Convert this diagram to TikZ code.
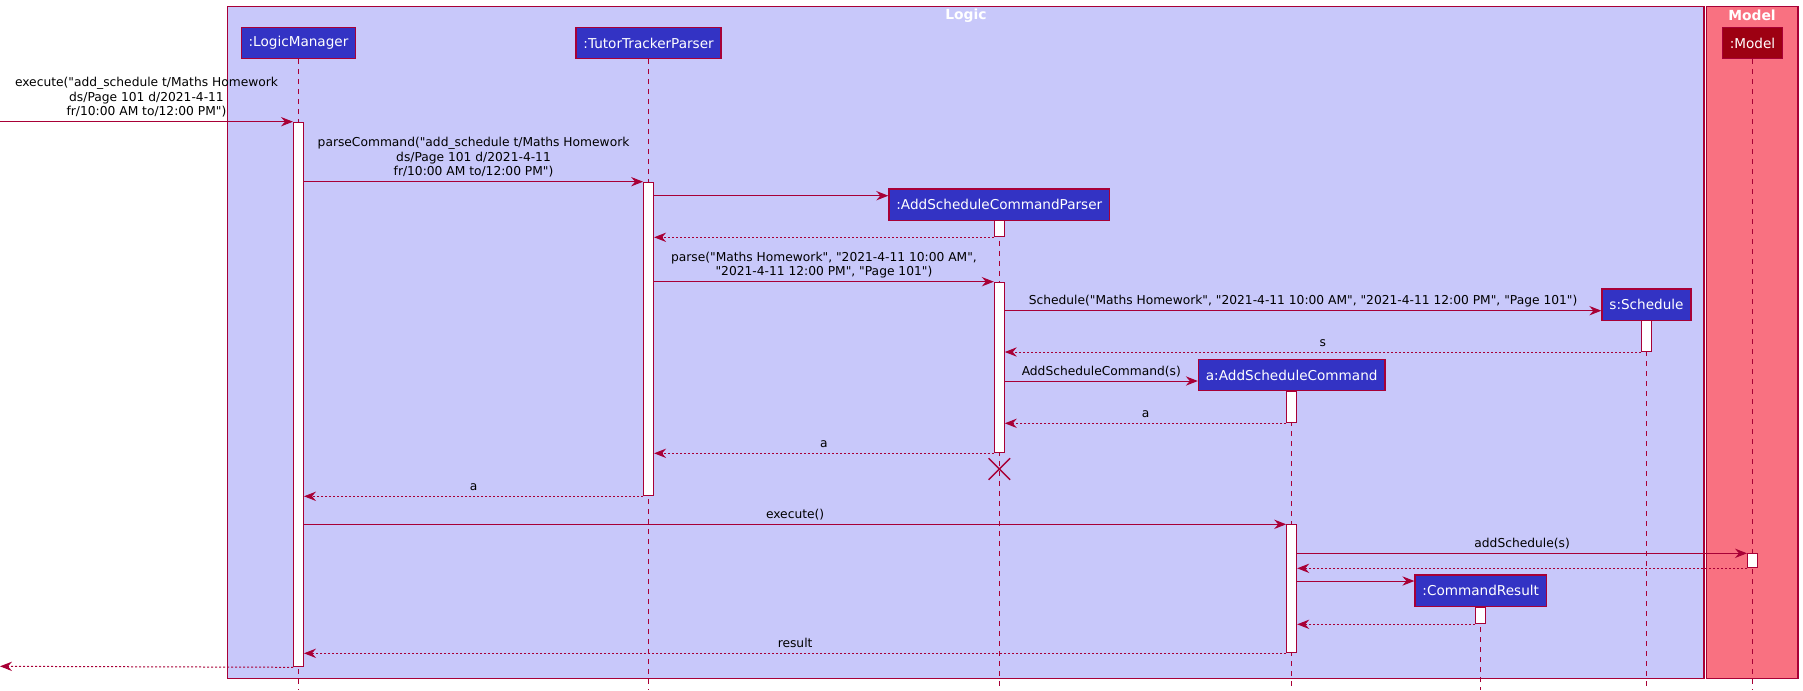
\documentclass[tikz,border=0pt]{standalone}
\usepackage{fontspec}
\setmainfont{DejaVu Sans}[Ligatures=TeXOff]
\usetikzlibrary{arrows.meta,shapes.misc}
\definecolor{edge}{HTML}{A80036}
\definecolor{logicfill}{HTML}{C8C8FA}
\definecolor{logicpart}{HTML}{3333C4}
\definecolor{modelfill}{HTML}{F97181}
\definecolor{modelpart}{HTML}{9D0012}
% activation bar: name, participant node, top y, bottom y (px)
\newcommand\actbar[4]{\node[actbox, minimum height={(#4-#3)*0.75pt}] (#1) at (#2.south |- 0,#3) {};}
\begin{document}
\begin{tikzpicture}[x=0.75pt, y=-0.75pt,
  frame/.style={draw=edge, line width=1.1pt},
  title/.style={text=white, font=\bfseries\fontsize{10.4}{12}\selectfont, inner sep=0pt},
  part/.style={draw=edge, line width=1.1pt, fill=logicpart, text=white,
    font=\fontsize{10.2}{12}\selectfont, minimum height=23.6pt, inner xsep=5.5pt, inner ysep=0pt},
  life/.style={draw=edge, line width=0.75pt, dash pattern=on 3.75pt off 3.75pt},
  actbox/.style={draw=edge, fill=white, line width=0.75pt, anchor=north, minimum width=7.5pt, inner sep=0pt},
  msg/.style={draw=edge, line width=0.75pt, -{Stealth[length=9pt, width=7pt, inset=3pt]}},
  ret/.style={msg, dash pattern=on 1.5pt off 1.5pt},
  lbl/.style={midway, anchor=south, inner sep=0pt, yshift=0.75pt, align=center, text=black,
    font=\fontsize{9.2}{10.9}\selectfont},
  killmark/.style={cross out, draw=edge, line width=1.1pt, minimum size=15pt, inner sep=0pt},
]
\useasboundingbox (0,0) rectangle (1803,690);

% package frames
\draw[frame, fill=logicfill] (227.7,6.5) rectangle (1704,678.3);
\draw[frame, fill=modelfill] (1706.5,6.5) rectangle (1798,678.3);
\node[title] (logicT) at (966,15.5) {Logic};
\node[title] (modelT) at (1752,15.5) {Model};

% participants
\node[part] (lm) at (298.5,43) {:LogicManager};
\node[part] (tt) at (648.6,43) {:TutorTrackerParser};
\node[part] (ascp) at (999.3,204.5) {:AddScheduleCommandParser};
\node[part] (sch) at (1646.5,304.8) {s:Schedule};
\node[part] (asc) at (1291.7,375) {a:AddScheduleCommand};
\node[part] (cr) at (1480.7,590.8) {:CommandResult};
\node[part, fill=modelpart] (model) at (1752.5,43) {:Model};

% lifelines
\foreach \p in {lm,tt,ascp,sch,asc,cr,model}
  \draw[life] (\p.south) -- (\p.south |- 0,690);

% activation bars
\actbar{aLM}{lm}{121.7}{666.3}
\actbar{aTT}{tt}{181.7}{495.3}
\actbar{aP1}{ascp}{219.7}{236.3}
\actbar{aP2}{ascp}{281.7}{452.3}
\actbar{aS}{sch}{319.7}{351}
\actbar{aA1}{asc}{390.7}{422.3}
\actbar{aA2}{asc}{524.3}{652.3}
\actbar{aM}{model}{553.3}{567.3}
\actbar{aC}{cr}{606.7}{623.3}

% messages
\coordinate (src) at (0,121.7);
\coordinate (dst) at (0,666.3);
\draw[msg] (src) -- (aLM.north west)
  node[lbl] (l1) {execute("add\_schedule t/Maths Homework\\ds/Page 101 d/2021-4-11\\fr/10:00 AM to/12:00 PM")\strut};
\draw[msg] (aLM.east |- aTT.north) -- (aTT.north west)
  node[lbl] (l2) {parseCommand("add\_schedule t/Maths Homework\\ds/Page 101 d/2021-4-11\\fr/10:00 AM to/12:00 PM")\strut};
\draw[msg] (aTT.east |- 0,195.7) -- (ascp.west |- 0,195.7);
\draw[ret] (aP1.south west) -- (aTT.east |- aP1.south);
\draw[msg] (aTT.east |- aP2.north) -- (aP2.north west)
  node[lbl] (l3) {parse("Maths Homework", "2021-4-11 10:00 AM",\\"2021-4-11 12:00 PM", "Page 101")\strut};
\draw[msg] (aP2.east |- 0,310.7) -- (sch.west |- 0,310.7)
  node[lbl] (l4) {Schedule("Maths Homework", "2021-4-11 10:00 AM", "2021-4-11 12:00 PM", "Page 101")\strut};
\draw[ret] (aS.south west) -- (aP2.east |- aS.south) node[lbl] (l5) {s\strut};
\draw[msg] (aP2.east |- 0,381) -- (asc.west |- 0,381) node[lbl] (l6) {AddScheduleCommand(s)\strut};
\draw[ret] (aA1.south west) -- (aP2.east |- aA1.south) node[lbl] (l7) {a\strut};
\draw[ret] (aP2.south west) -- (aTT.east |- aP2.south) node[lbl] (l8) {a\strut};
\node[killmark] (kill) at (aP2.south |- 0,469) {};
\draw[ret] (aTT.south west) -- (aLM.east |- aTT.south) node[lbl] (l9) {a\strut};
\draw[msg] (aLM.east |- aA2.north) -- (aA2.north west) node[lbl] (l10) {execute()\strut};
\draw[msg] (aA2.east |- aM.north) -- (aM.north west) node[lbl] (l11) {addSchedule(s)\strut};
\draw[ret] (aM.south west) -- (aA2.east |- aM.south);
\draw[msg] (aA2.east |- 0,581) -- (cr.west |- 0,581);
\draw[ret] (aC.south west) -- (aA2.east |- aC.south);
\draw[ret] (aA2.south west) -- (aLM.east |- aA2.south) node[lbl] (l12) {result\strut};
\draw[ret] (aLM.south west) -- (dst);
\end{tikzpicture}
\end{document}
